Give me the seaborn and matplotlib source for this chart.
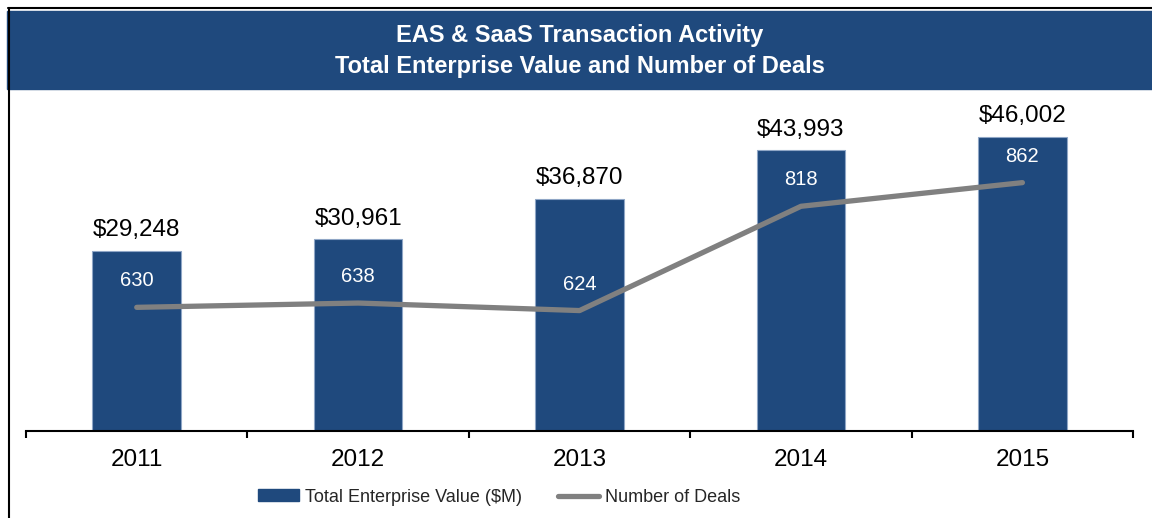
import numpy as np
import pandas as pd
import seaborn as sns
import matplotlib.pyplot as plt
from matplotlib.patches import Patch, Rectangle
from matplotlib.lines import Line2D

years = ["2011", "2012", "2013", "2014", "2015"]
enterprise_value = [29248, 30961, 36870, 43993, 46002]
num_deals = [630, 638, 624, 818, 862]

title_lines = ["EAS & SaaS Transaction Activity", "Total Enterprise Value and Number of Deals"]
legend_labels = ["Total Enterprise Value ($M)", "Number of Deals"]

NAVY = "#1F497D"
GRAY = "#808080"


def main():
    sns.set_style("white")
    plt.rcParams["font.family"] = ["Liberation Sans", "DejaVu Sans"]

    df = pd.DataFrame({"year": years, "tev": enterprise_value, "deals": num_deals})

    fig = plt.figure(figsize=(11.52, 5.18), dpi=100)
    ax = fig.add_axes([0.0226, 0.168, 0.961, 0.66])

    # bars
    sns.barplot(df, x="year", y="tev", color=NAVY, width=0.4, saturation=1,
                edgecolor="#8FA6C6", linewidth=0.8, ax=ax)
    ax.set_ylim(2860, 52990)
    ax.bar_label(ax.containers[0], labels=[f"${v:,}" for v in enterprise_value],
                 padding=7, fontsize=17.5, color="black")

    # axes styling
    sns.despine(ax=ax, left=True)
    ax.spines["bottom"].set_linewidth(1.5)
    ax.spines["bottom"].set_color("black")
    ax.set_yticks([])
    ax.set_xlabel("")
    ax.set_ylabel("")
    ax.set_xlim(-0.5, len(years) - 0.5)
    ax.set_xticks(np.arange(-0.5, len(years), 1.0), minor=True)
    ax.tick_params(axis="x", which="minor", bottom=True, direction="out", length=5,
                   width=1.5, color="black")
    ax.tick_params(axis="x", which="major", length=0, pad=13, labelsize=17.5,
                   labelcolor="black")

    # deals line on secondary axis
    ax2 = ax.twinx()
    sns.lineplot(x=np.arange(len(years)), y=df["deals"], color=GRAY, linewidth=3.8,
                 solid_capstyle="round", ax=ax2)
    ax2.set_ylim(400, 1036)
    ax2.set_yticks([])
    ax2.set_ylabel("")
    for s in ax2.spines.values():
        s.set_visible(False)
    for i, d in enumerate(num_deals):
        ax2.annotate(str(d), (i, d), xytext=(0, 19), textcoords="offset points",
                     ha="center", va="center", color="white", fontsize=14.5)

    # title banner and frame
    fig.patches.append(Rectangle((7 / 1152, 0.828), 1, 0.151, transform=fig.transFigure,
                                 color=NAVY, zorder=0))
    fig.lines.append(Line2D([8 / 1152, 1], [0.985, 0.985], transform=fig.transFigure,
                            color="black", linewidth=1.5))
    fig.lines.append(Line2D([8.5 / 1152, 8.5 / 1152], [0, 0.985], transform=fig.transFigure,
                            color="black", linewidth=1.5))
    fig.text(0.503, 0.932, title_lines[0], ha="center", va="center", color="white",
             fontsize=17, fontweight="bold")
    fig.text(0.503, 0.871, title_lines[1], ha="center", va="center", color="white",
             fontsize=17, fontweight="bold")

    # legend
    handles = [Patch(facecolor=NAVY, edgecolor=NAVY),
               Line2D([], [], color=GRAY, linewidth=3.8, solid_capstyle="round")]
    fig.legend(handles, legend_labels, loc="center", bbox_to_anchor=(0.433, 0.04),
               ncol=2, frameon=False, fontsize=13, handlelength=2.3, handleheight=0.65,
               handletextpad=0.3, columnspacing=2.0)

    plt.savefig("out.png", dpi=100)
    plt.clf()


if __name__ == "__main__":
    main()
